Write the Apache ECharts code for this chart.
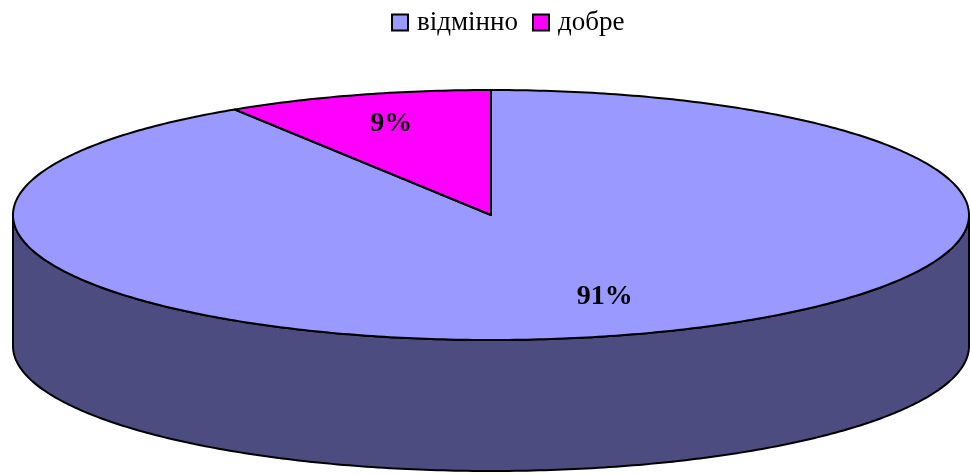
<!DOCTYPE html>
<html>
<head>
<meta charset="utf-8">
<script src="https://cdn.jsdelivr.net/npm/echarts@6/dist/echarts.min.js"></script>
<style>
  html, body { margin: 0; padding: 0; background: #fff; }
  #chart { width: 970px; height: 475px; }
</style>
</head>
<body>
<div id="chart"></div>
<script>
// data
const categories = ["відмінно", "добре"];
const values = [91, 9];
const topColors = ["#9999ff", "#ff00ff"];
const sideColors = ["#4c4c80", "#800080"];

const FONT = "'Times New Roman', 'Liberation Serif', serif";
const RX = 478, RY = 125, DEPTH = 131;
const K = RY / RX;
const LABEL_FX = 0.8, LABEL_FY = 0.72, LABEL_DX = 7, LABEL_DY = -5;

const total = values.reduce((a, b) => a + b, 0);
let acc = 0;
const slices = values.map((v) => {
  const s = acc;
  acc += v;
  return [s, acc];
});

const chart = echarts.init(document.getElementById("chart"));

function renderSlice(idx) {
  return function (params, api) {
    const s = api.value(0), e = api.value(1);
    const c = api.coord([0, 0]);
    const pt = (a, r) => {
      const p = api.coord([r, a]);
      return [p[0], c[1] + (p[1] - c[1]) * K];
    };
    const arc = (a0, a1) => {
      const pts = [];
      const n = Math.max(2, Math.ceil((a1 - a0) / 0.2));
      for (let i = 0; i <= n; i++) pts.push(pt(a0 + (a1 - a0) * i / n, 1));
      return pts;
    };
    const children = [];
    // visible side wall (front half: 25..75 of 100)
    const fs = Math.max(s, total * 0.25), fe = Math.min(e, total * 0.75);
    if (fe > fs) {
      const topArc = arc(fs, fe);
      const bottom = topArc.map((p) => [p[0], p[1] + DEPTH]).reverse();
      children.push({
        type: "polygon",
        shape: { points: topArc.concat(bottom) },
        style: { fill: sideColors[idx], stroke: "#000", lineWidth: 2, lineJoin: "round" }
      });
    }
    children.push({
      type: "polygon",
      shape: { points: [c].concat(arc(s, e)) },
      style: { fill: topColors[idx], stroke: "#000", lineWidth: 2, lineJoin: "round" }
    });
    const m = api.coord([1, (s + e) / 2]);
    children.push({
      type: "text",
      style: {
        x: c[0] + (m[0] - c[0]) * LABEL_FX + LABEL_DX,
        y: c[1] + (m[1] - c[1]) * K * LABEL_FY + LABEL_DY,
        text: Math.round(values[idx] / total * 100) + "%",
        fill: "#000",
        font: "bold 28px " + FONT,
        align: "center",
        verticalAlign: "middle"
      }
    });
    return { type: "group", children: children };
  };
}

const option = {
  animation: false,
  legend: {
    data: categories,
    top: 4,
    left: 386,
    icon: "rect",
    itemWidth: 16,
    itemHeight: 16,
    itemGap: 14,
    itemStyle: { borderColor: "#000", borderWidth: 2 },
    textStyle: { fontFamily: FONT, fontSize: 27, color: "#000", padding: [0, 0, 0, 4] }
  },
  polar: { center: [491, 215], radius: RX },
  angleAxis: { type: "value", min: 0, max: total, startAngle: 90, clockwise: true, show: false },
  radiusAxis: { type: "value", min: 0, max: 1, show: false },
  series: categories.map((name, i) => ({
    name: name,
    type: "custom",
    coordinateSystem: "polar",
    itemStyle: { color: topColors[i], borderColor: "#000", borderWidth: 2 },
    silent: true,
    data: [[slices[i][0], slices[i][1]]],
    renderItem: renderSlice(i)
  }))
};

chart.setOption(option);
window.addEventListener("resize", () => {
  chart && chart.resize();
});
</script>
</body>
</html>
